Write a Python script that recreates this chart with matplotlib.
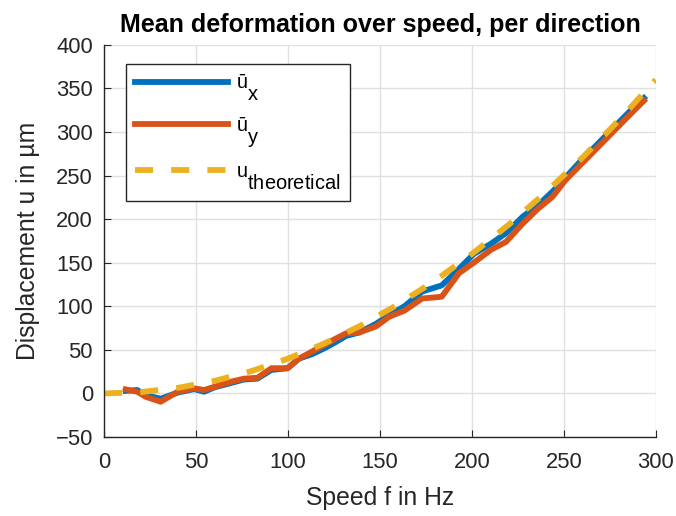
import matplotlib
matplotlib.use("Agg")
import matplotlib.pyplot as plt
import matplotlib._mathtext as mt

plt.rcParams['font.family'] = ['Liberation Sans', 'DejaVu Sans']
plt.rcParams['mathtext.fontset'] = 'custom'
plt.rcParams['mathtext.rm'] = 'Liberation Sans'
plt.rcParams['mathtext.it'] = 'Liberation Sans'
# MATLAB-style legend subscripts: full size and dropped well below the baseline
mt.SHRINK_FACTOR = 1.0
mt.FontConstantsBase.sub1 = 1.15

speed = [11.8, 18, 22.6, 30.8, 40, 49, 54.4, 60, 69, 76, 83.4, 91, 99.8, 106,
         113, 120, 126, 131.6, 138.8, 147.9, 155, 163.3, 173, 183.6, 193, 201,
         210.5, 218.6, 227.7, 236, 244, 251, 258, 265, 272, 279, 286, 293.6]
ux = [3, 4, -2, -6, 1, 5, 2, 7, 12, 16, 17, 27, 29, 40,
      45, 52, 59, 66, 70, 80, 90, 100, 117, 124, 143, 160,
      172, 184, 203, 216, 232, 248, 264, 279, 294, 309, 324, 339]
uy = [4.7, 2, -3.8, -9.5, 2, 5.8, 4, 7.7, 13.5, 17, 18, 29, 29, 40,
      48, 56, 63, 69, 70, 77, 88, 95, 109, 111, 138, 150,
      165, 174, 195, 212, 226, 245, 260, 275, 290, 305, 320, 336]

# theoretical curve
speed_th = [0, 20, 40, 60, 80, 100, 120, 140, 160, 180, 200, 220, 240, 260, 280, 300]
u_th = [0, 1.6, 6.4, 14.4, 25.6, 40, 57.6, 78.4, 102.4, 129.6, 160, 193.6,
        230.4, 270.4, 313.6, 360]

C_TXT = '#262626'
fig = plt.figure(figsize=(6.76, 5.16), dpi=100)
ax = fig.add_axes([0.154, 0.153, 0.816, 0.760])

LW = 4.2
ax.plot(speed, ux, color='#0072BD', lw=LW, label=r'ū$_{\mathrm{x}}$')
ax.plot(speed, uy, color='#D95319', lw=LW, label=r'ū$_{\mathrm{y}}$')
ax.plot(speed_th, u_th, color='#EDB120', lw=LW, ls=(0, (3.1, 3.1)),
        label=r'u$_{\mathrm{theoretical}}$')

ax.set_xlim(0, 300)
ax.set_ylim(-50, 400)
ax.set_xticks(range(0, 301, 50))
ax.set_yticks(range(-50, 401, 50))
ax.set_yticklabels(['\u221250'] + [str(v) for v in range(0, 401, 50)])
ax.grid(True, color='#e0e0e0', lw=1.0)
ax.set_axisbelow(True)
for s in ['top', 'right']:
    ax.spines[s].set_visible(False)
for s in ['left', 'bottom']:
    ax.spines[s].set_color(C_TXT)
    ax.spines[s].set_linewidth(1.0)
ax.tick_params(direction='in', length=5, colors=C_TXT, labelsize=15.8)
ax.tick_params(axis='x', pad=11)
ax.tick_params(axis='y', pad=8)

ax.set_xlabel('Speed f in Hz', fontsize=17.8, color=C_TXT, labelpad=9)
ax.set_ylabel('Displacement u in µm', fontsize=17.8, color=C_TXT, labelpad=11)
ax.set_title('Mean deformation over speed, per direction', fontsize=18,
             fontweight='bold', color='black', pad=9)

leg = ax.legend(loc='upper left', bbox_to_anchor=(0.04, 0.952), fontsize=14.4,
                handlelength=4.65, labelspacing=0.6, borderpad=0.45,
                handletextpad=0.4, borderaxespad=0, fancybox=False,
                framealpha=1, edgecolor=C_TXT)
leg.get_frame().set_linewidth(1.0)
for t in leg.get_texts():
    t.set_color('black')

fig.savefig('out.png', dpi=100)
